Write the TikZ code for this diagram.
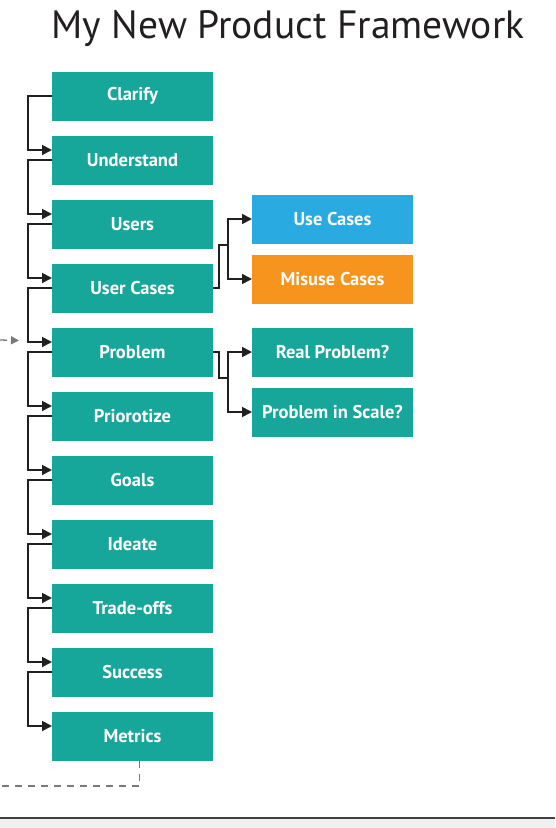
\documentclass[tikz,border=0pt]{standalone}
\usepackage{fontspec}
\setmainfont{PT Sans}
\usetikzlibrary{arrows.meta,positioning}
\definecolor{Teal}{HTML}{17A69A}
\definecolor{Sky}{HTML}{29ABE2}
\definecolor{Orange}{HTML}{F7941D}
\definecolor{Dark}{HTML}{231F20}
\definecolor{Muted}{HTML}{7A7A7A}

\begin{document}
\begin{tikzpicture}[x=1pt, y=-1pt, node distance=15pt, every node/.style={font=\fontsize{18.5}{22}\selectfont\bfseries},
  box/.style={fill=Teal, text=white, minimum width=161pt, minimum height=49pt, inner sep=0pt, outer sep=0pt, align=center},
  link/.style={-{Triangle[length=10pt,width=10pt]}, line width=1.8pt, color=Dark},
  back/.style={dash pattern=on 7pt off 6pt, line width=1.3pt, color=Muted}]
\useasboundingbox (0,0) rectangle (555,828);
\fill[black!6] (0,819) rectangle (555,828);
\draw[line width=2pt, black!75] (0,818) -- (555,818);
\node[font=\fontsize{39.5}{44}\selectfont, text=Dark] (title) at (288,28.5) {My New Product Framework};
% main stages
\node[box] (a) at (132.5,96) {Clarify};
\node[box, below=of a] (b) {Understand};
\node[box, below=of b] (c) {Users};
\node[box, below=of c] (d) {User Cases};
\node[box, below=of d] (e) {Problem};
\node[box, below=of e] (f) {Priorotize};
\node[box, below=of f] (g) {Goals};
\node[box, below=of g] (h) {Ideate};
\node[box, below=of h] (i) {Trade-offs};
\node[box, below=of i] (j) {Success};
\node[box, below=of j] (k) {Metrics};
% side branches
\node[box, fill=Orange, right=39pt of d, yshift=9pt] (m) {Misuse Cases};
\node[box, fill=Sky, above=11pt of m] (l) {Use Cases};
\node[box, right=39pt of e] (n) {Real Problem?};
\node[box, below=11pt of n] (o) {Problem in Scale?};
\foreach \x/\y in {a/b,b/c,c/d,d/e,e/f,f/g,g/h,h/i,i/j,j/k}{\draw[link] (\x.west) -- ++(-24,0) |- ([yshift=10pt]\y.west);}
\draw[link, -] (d.east) -- ++(6,0) -- ++(0,-43) -- ++(9,0) coordinate (ds);
\draw[link] (ds) |- (l.west);
\draw[link] (ds) |- (m.west);
\draw[link, -] (e.east) -- ++(6,0) -- ++(0,26) -- ++(9,0) coordinate (es);
\draw[link] (es) |- (n.west);
\draw[link] (es) |- (o.west);
% feedback loop
\coordinate (out) at (0,786);
\coordinate (in) at (0,340);
\draw[back] ([xshift=7pt]k.south) |- (out);
\draw[back, -{Triangle[length=8pt,width=8pt]}] (in) -- ([xshift=-33pt,yshift=11.5pt]e.west);
\end{tikzpicture}
\end{document}
